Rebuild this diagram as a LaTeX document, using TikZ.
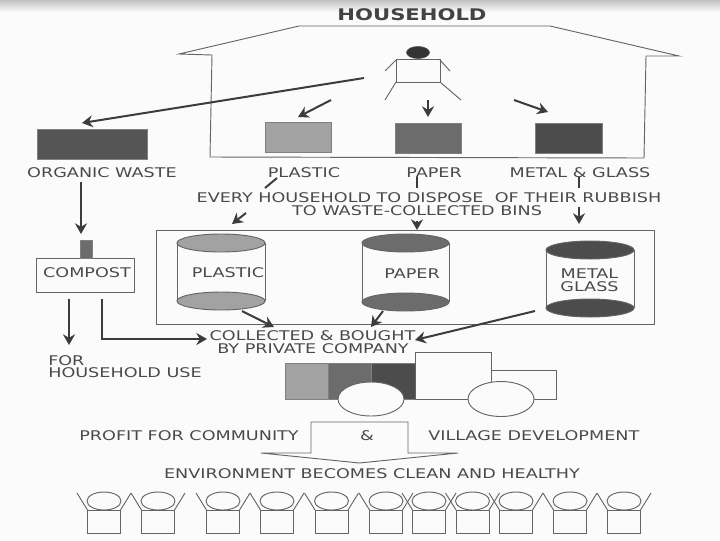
\documentclass[tikz,border=0pt]{standalone}
\usepackage{fontspec}
\setmainfont[FakeStretch=1.32]{DejaVu Sans}
\usetikzlibrary{arrows.meta}
\definecolor{ink}{HTML}{4A4A4A}
\definecolor{arrowink}{HTML}{3C3C3C}
\definecolor{lightfill}{HTML}{A2A2A2}
\definecolor{midfill}{HTML}{6C6C6C}
\definecolor{darkfill}{HTML}{4C4C4C}
\definecolor{paper}{HTML}{FBFBFB}
\begin{document}
\begin{tikzpicture}[x=0.75pt,y=-0.75pt,
  every node/.style={font=\fontsize{10}{12}\selectfont,text=ink,inner sep=0pt},
  outline/.style={draw=ink!85,line width=0.7pt},
  flow/.style={draw=arrowink,line width=1.5pt,-{Stealth[length=8pt,width=9pt]}},
  tick/.style={draw=arrowink,line width=1.5pt},
  swatch/.style 2 args={draw=ink!70,line width=0.4pt,minimum width=#1*0.75pt,minimum height=#2*0.75pt}]
\useasboundingbox[fill=paper] (0,0) rectangle (720,540);
\shade[top color=black!24,bottom color=paper,draw=none] (0,0) rectangle (720,12);
% house
\node[font=\fontsize{12}{14}\selectfont\bfseries,text=ink!90!black] (title) at (412,15) {HOUSEHOLD};
\draw[outline] (212,55) -- (179,54) -- (299,26) -- (550,26) -- (679,56) -- (646,56) -- (644,158) -- (210,157) -- cycle;
% person
\draw[draw=ink,fill=black!80] (418,52.5) ellipse (11.5 and 6);
\draw[outline] (396,59) rectangle (440,82);
\draw[outline] (396,60) -- (385,71) (440,60) -- (450,71) (396,82) -- (385,100) (440,82) -- (461,100);
% waste squares
\node[swatch={110}{30},fill=darkfill!95] (organic) at (92,144) {};
\node[swatch={66}{30},fill=lightfill] (plasticsq) at (298,137) {};
\node[swatch={66}{30},fill=midfill] (papersq) at (428,138) {};
\node[swatch={67}{30},fill=darkfill] (metalsq) at (568.5,138) {};
\coordinate (hand) at (364,78);
\coordinate (handa) at (331,100);
\coordinate (handb) at (428,100);
\coordinate (handc) at (514,100);
\coordinate (orgtip) at (82,123);
\coordinate (plastictip) at (298,117);
\coordinate (papertip) at (428,117);
\coordinate (metaltip) at (548,112);
\draw[flow] (hand) -- (orgtip);
\draw[flow] (handa) -- (plastictip);
\draw[flow] (handb) -- (papertip);
\draw[flow] (handc) -- (metaltip);
% labels under the squares
\node (orglabel) at (102,173) {ORGANIC WASTE};
\node (plasticlabel) at (304,173) {PLASTIC};
\node (paperlabel) at (434,173) {PAPER};
\node (metallabel) at (580,173) {METAL \& GLASS};
\node (every) at (429,198) {EVERY HOUSEHOLD TO DISPOSE\ \ OF THEIR RUBBISH};
\node (every2) at (417,211) {TO WASTE-COLLECTED BINS};
\coordinate (ticka) at (277,178); \coordinate (tickaend) at (265,188);
\coordinate (tickb) at (417,177); \coordinate (tickbend) at (417,188);
\coordinate (tickc) at (579,177); \coordinate (tickcend) at (579,188);
\draw[tick] (ticka) -- (tickaend);
\draw[tick] (tickb) -- (tickbend);
\draw[tick] (tickc) -- (tickcend);
\coordinate (bina) at (246,213); \coordinate (binatip) at (232,224);
\coordinate (binb) at (417,221); \coordinate (binbtip) at (417,230);
\coordinate (binc) at (579,207); \coordinate (binctip) at (579,224);
\draw[flow] (bina) -- (binatip);
\draw[flow] (binb) -- (binbtip);
\draw[flow] (binc) -- (binctip);
% bins
\node[outline,minimum width=373.5pt,minimum height=70.5pt] (binbox) at (405,277) {};
\foreach \xl/\xr/\yt/\yb/\col in {177/265/243/301/lightfill,362/449/243/302/midfill,546/634/250/308/darkfill}{
  \draw[outline] (\xl,\yt) -- (\xl,\yb) (\xr,\yt) -- (\xr,\yb);
  \draw[outline,fill=\col] ({(\xl+\xr)/2},\yt) ellipse ({(\xr-\xl)/2} and 9);
  \draw[outline,fill=\col] ({(\xl+\xr)/2},\yb) ellipse ({(\xr-\xl)/2} and 9);
}
\node (binplastic) at (228,273) {PLASTIC};
\node (binpaper) at (412,273.5) {PAPER};
\node[align=center,font=\fontsize{10}{9.8}\selectfont] (binmetal) at (589.5,280.5) {METAL\\GLASS};
% compost
\node[outline,minimum width=74pt,minimum height=26pt] (compost) at (85.5,275.5) {};
\node (compostlabel) at (87,273) {COMPOST};
\node[swatch={12}{18},fill=midfill] (stub) at (86,249) {};
\coordinate (orgstart) at (81,182); \coordinate (orgend) at (81,234);
\draw[flow] (orgstart) -- (orgend);
\coordinate (usestart) at (69,299); \coordinate (useend) at (69,345);
\draw[flow] (usestart) -- (useend);
\coordinate (sellstart) at (101.5,299); \coordinate (sellcorner) at (101.5,339); \coordinate (sellend) at (207,339);
\draw[flow] (sellstart) -- (sellcorner) -- (sellend);
\node[anchor=west] (uselabel) at (48,361) {FOR};
\node[anchor=west] (uselabel2) at (48,373) {HOUSEHOLD USE};
% company
\node (collected) at (312.5,336) {COLLECTED \& BOUGHT};
\node (company) at (313,349) {BY PRIVATE COMPANY};
\coordinate (plout) at (242,311); \coordinate (plin) at (274,327);
\coordinate (paout) at (383,311); \coordinate (pain) at (371,327);
\coordinate (meout) at (535,311); \coordinate (mein) at (415,340);
\draw[flow] (plout) -- (plin);
\draw[flow] (paout) -- (pain);
\draw[flow] (meout) -- (mein);
% truck
\node[swatch={43}{36},fill=lightfill] (loada) at (306.5,381) {};
\node[swatch={43}{36},fill=midfill] (loadb) at (349.5,381) {};
\node[swatch={44}{36},fill=darkfill] (loadc) at (393,381) {};
\draw[outline,fill=paper] (491,370) -- (556,370) -- (556,399) -- (491,399) -- cycle;
\draw[outline,fill=paper] (415,352) rectangle (491,399);
\draw[outline,fill=paper] (371,399) ellipse (33 and 17);
\draw[outline,fill=paper] (501,399) ellipse (33 and 17.5);
% profit
\draw[outline] (311,422) -- (408,422) -- (408,453) -- (458,453) -- (359.5,463) -- (261,453) -- (311,453) -- cycle;
\node[anchor=east] (profit) at (299,436) {PROFIT FOR COMMUNITY};
\node (amp) at (367,436) {\&};
\node[anchor=west] (village) at (428,436) {VILLAGE DEVELOPMENT};
\node (clean) at (372,474) {ENVIRONMENT BECOMES CLEAN AND HEALTHY};
% people
\foreach \px in {104,158,223,277,331.5,386,429,472.5,516,570,624}{
  \draw[outline] ({\px-16.5},510) rectangle ({\px+16.5},533);
  \draw[outline] (\px,501) ellipse (17 and 9);
  \draw[outline] ({\px-16.5},510) -- ({\px-27},493) ({\px+16.5},510) -- ({\px+27},493);
}
\end{tikzpicture}
\end{document}
